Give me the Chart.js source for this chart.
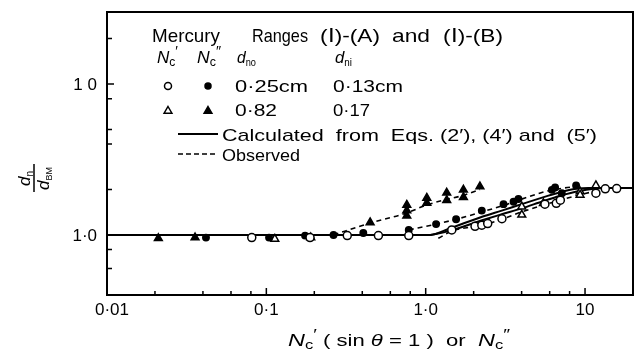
<!DOCTYPE html>
<html><head><meta charset="utf-8">
<script src="https://cdn.jsdelivr.net/npm/chart.js@4"></script>
<style>html,body{margin:0;padding:0;background:#fff}#wrap{width:642px;height:356px}</style>
</head><body><div id="wrap"><canvas id="c" width="642" height="356"></canvas></div>
<script>
// ---- tick data ----
const xMajorTicks = [0.01, 0.1, 1, 10];
const xTickLabels = ['0·01', '0·1', '1·0', '10'];
const xMinorTicks = [0.02,0.04,0.06,0.08,0.2,0.4,0.6,0.8,2,4,6,8];
const yMajorTicks = [1, 10];
const yTickLabels = ['1·0', '1 0'];
const yMinorTicks = [0.6,0.8,2,4,5,8,20];

// ---- observed points ----
const openCircX = [0.081, 0.188, 0.322, 0.505, 0.783, 1.458, 2.04, 2.25, 2.45, 3.01, 5.6, 6.6, 7.0, 11.7, 13.4, 15.8];
const openCircY = [0.96, 0.96, 0.99, 0.99, 0.99, 1.08, 1.14, 1.16, 1.19, 1.28, 1.6, 1.62, 1.7, 1.89, 2.02, 2.03];
const filledCircX = [0.0418, 0.104, 0.175, 0.264, 0.406, 0.783, 1.162, 1.552, 2.25, 3.08, 3.56, 3.82, 6.19, 6.49, 7.15, 8.79];
const filledCircY = [0.96, 0.96, 0.99, 1.0, 1.03, 1.08, 1.18, 1.27, 1.45, 1.6, 1.66, 1.73, 1.99, 2.06, 1.89, 2.13];
const openTriX = [0.113, 0.19, 4.01, 4.01, 5.48, 9.31, 9.31, 11.7];
const openTriY = [0.94, 0.96, 1.54, 1.36, 1.62, 1.94, 1.84, 2.13];
const filledTriX = [0.021, 0.0357, 0.448, 0.761, 0.761, 0.761, 1.016, 1.016, 1.355, 1.355, 1.725, 1.725, 2.19];
const filledTriY = [0.95, 0.96, 1.21, 1.58, 1.45, 1.34, 1.76, 1.63, 1.9, 1.7, 1.99, 1.78, 2.09];

// ---- calculated (solid) curves ----
const calcUpperX = [0.01, 1.07, 1.4, 2.26, 3.0, 4.0, 5.5, 7.0, 8.8, 10.5, 20];
const calcUpperY = [1, 1, 1.1, 1.32, 1.45, 1.6, 1.78, 1.92, 2.02, 2.05, 2.05];
const calcLowerX = [1.07, 1.4, 2.26, 3.0, 4.0, 5.5, 7.0, 9.0, 11.7, 14];
const calcLowerY = [1, 1.06, 1.25, 1.37, 1.5, 1.68, 1.82, 1.95, 2.03, 2.05];

// ---- observed (dashed) curves ----
const obsTriX = [0.264, 0.448, 0.761, 1.016, 1.355, 1.725, 2.19];
const obsTriY = [1.0, 1.2, 1.4, 1.58, 1.72, 1.83, 2.0];
const obsFCX = [0.783, 1.162, 1.552, 2.25, 3.08, 3.82, 6.0, 8.8];
const obsFCY = [1.08, 1.18, 1.27, 1.42, 1.57, 1.7, 1.97, 2.1];
const obsOCX = [1.2, 1.458, 2.04, 2.45, 3.01, 4.0, 5.75, 7.0, 9.3, 11.7, 13.4];
const obsOCY = [0.95, 1.06, 1.14, 1.19, 1.27, 1.42, 1.6, 1.7, 1.85, 1.95, 2.02];

const zip = (xs, ys) => xs.map((x, i) => ({x, y: ys[i]}));
const FONT = '"Liberation Sans", Arial, sans-serif';

function lineDs(xs, ys, dashed) {
  return {data: zip(xs, ys), showLine: true, pointRadius: 0, borderColor: '#000',
    borderWidth: dashed ? 1.6 : 2, borderDash: dashed ? [5, 4] : [], cubicInterpolationMode: 'monotone',
    order: 2, fill: false};
}
function ptDs(xs, ys, style, filled, r) {
  return {data: zip(xs, ys), showLine: false, pointStyle: style, pointRadius: r, pointHoverRadius: r,
    backgroundColor: filled ? '#000' : '#fff', borderColor: '#000', borderWidth: 1.5, order: 1};
}

function richWidth(ctx, parts) {
  let w = 0;
  for (const p of parts) { ctx.font = (p.italic ? 'italic ' : '') + p.size + 'px ' + FONT; w += ctx.measureText(p.t).width; }
  return w;
}
function drawRich(ctx, parts, x, y, width) {
  const w = richWidth(ctx, parts);
  const s = width ? width / w : 1;
  ctx.save(); ctx.translate(x, y); ctx.scale(s, 1);
  let cx = 0;
  for (const p of parts) {
    ctx.font = (p.italic ? 'italic ' : '') + p.size + 'px ' + FONT;
    ctx.fillText(p.t, cx, p.dy || 0);
    cx += ctx.measureText(p.t).width;
  }
  ctx.restore();
}
function T(t, size, italic, dy) { return {t, size, italic, dy}; }
function Nc(prime, size) { return [T('N', size, true), T('c', Math.round(size*0.72), false, 3), T(prime, Math.round(size*0.8), false, -7)]; }

function drawMarker(ctx, style, filled, x, y, r) {
  ctx.save(); ctx.lineWidth = 1.5; ctx.strokeStyle = '#000'; ctx.fillStyle = filled ? '#000' : '#fff';
  ctx.beginPath();
  if (style === 'circle') ctx.arc(x, y, r, 0, Math.PI*2);
  else { ctx.moveTo(x, y - r); ctx.lineTo(x + r*0.866, y + r*0.5); ctx.lineTo(x - r*0.866, y + r*0.5); ctx.closePath(); }
  ctx.fill(); ctx.stroke(); ctx.restore();
}

const decor = {
  id: 'decor',
  afterDraw(chart) {
    const ctx = chart.ctx, xs = chart.scales.x, ys = chart.scales.y, a = chart.chartArea;
    ctx.save();
    ctx.strokeStyle = '#000'; ctx.fillStyle = '#000';
    ctx.lineWidth = 2;
    ctx.strokeRect(a.left, a.top, a.right - a.left, a.bottom - a.top);
    ctx.lineWidth = 1.5;
    ctx.beginPath();
    for (const v of xMinorTicks) { const p = xs.getPixelForValue(v); ctx.moveTo(p, a.bottom); ctx.lineTo(p, a.bottom - 4); }
    for (const v of xMajorTicks) { const p = xs.getPixelForValue(v); ctx.moveTo(p, a.bottom); ctx.lineTo(p, a.bottom - 7); }
    for (const v of yMinorTicks) { const p = ys.getPixelForValue(v); ctx.moveTo(a.left, p); ctx.lineTo(a.left + 5, p); }
    for (const v of yMajorTicks) { const p = ys.getPixelForValue(v); ctx.moveTo(a.left, p); ctx.lineTo(a.left + 7, p); }
    ctx.stroke();

    ctx.font = '17px ' + FONT; ctx.textAlign = 'center'; ctx.textBaseline = 'alphabetic';
    xMajorTicks.forEach((v, i) => { ctx.fillText(xTickLabels[i], xs.getPixelForValue(v) + (i === 0 ? 5 : 0), 315); });
    ctx.textAlign = 'right';
    yMajorTicks.forEach((v, i) => { ctx.fillText(yTickLabels[i], 97, ys.getPixelForValue(v) + 6); });
    ctx.textAlign = 'left';

    drawRich(ctx, [...Nc('′', 17), T(' ( sin ', 16), T('θ', 16, true), T(' = 1 )  or  ', 16), ...Nc('″', 17)], 288, 346, 222);

    ctx.save(); ctx.translate(34, 178); ctx.rotate(-Math.PI/2);
    ctx.lineWidth = 1.5; ctx.beginPath(); ctx.moveTo(-14, 0); ctx.lineTo(14, 0); ctx.stroke();
    drawRich(ctx, [T('d', 17, true), T('n', 10, false, 3)], -8, -4);
    drawRich(ctx, [T('d', 17, true), T('BM', 9, false, 3)], -12, 15);
    ctx.restore();

    drawRich(ctx, [T('Mercury', 19)], 152, 42, 68);
    drawRich(ctx, [T('Ranges', 19)], 252, 42, 56);
    drawRich(ctx, [T('(Ⅰ)-(A)', 19)], 320, 42, 60);
    drawRich(ctx, [T('and', 19)], 392, 42, 38);
    drawRich(ctx, [T('(Ⅰ)-(B)', 19)], 443, 42, 60);
    drawRich(ctx, Nc('′', 17), 157, 63, 21);
    drawRich(ctx, Nc('″', 17), 197, 63, 24);
    drawRich(ctx, [T('d', 17, true), T('no', 10, false, 3)], 237, 63, 19);
    drawRich(ctx, [T('d', 17, true), T('ni', 10, false, 3)], 335, 63, 17);
    drawMarker(ctx, 'circle', false, 168, 86, 3.5);
    drawMarker(ctx, 'circle', true, 208, 86, 3);
    drawRich(ctx, [T('0·25cm', 17)], 235, 92, 73);
    drawRich(ctx, [T('0·13cm', 17)], 333, 92, 70);
    drawMarker(ctx, 'triangle', false, 168, 111, 4.5);
    drawMarker(ctx, 'triangle', true, 208, 111, 4.5);
    drawRich(ctx, [T('0·82', 17)], 235, 116, 42);
    drawRich(ctx, [T('0·17', 17)], 333, 116, 37);
    ctx.lineWidth = 2; ctx.setLineDash([]);
    ctx.beginPath(); ctx.moveTo(178, 134); ctx.lineTo(218, 134); ctx.stroke();
    drawRich(ctx, [T('Calculated  from  Eqs. (2′), (4′) and  (5′)', 17)], 222, 141, 375);
    ctx.lineWidth = 1.6; ctx.setLineDash([5, 3]);
    ctx.beginPath(); ctx.moveTo(178, 154); ctx.lineTo(218, 154); ctx.stroke();
    ctx.setLineDash([]);
    drawRich(ctx, [T('Observed', 17)], 222, 161, 78);
    ctx.restore();
  }
};

new Chart(document.getElementById('c'), {
  type: 'scatter',
  data: {datasets: [
    lineDs(calcUpperX, calcUpperY, false),
    lineDs(calcLowerX, calcLowerY, false),
    lineDs(obsTriX, obsTriY, true),
    lineDs(obsFCX, obsFCY, true),
    lineDs(obsOCX, obsOCY, true),
    ptDs(openCircX, openCircY, 'circle', false, 4),
    ptDs(filledCircX, filledCircY, 'circle', true, 3.2),
    ptDs(openTriX, openTriY, 'triangle', false, 4.5),
    ptDs(filledTriX, filledTriY, 'triangle', true, 4.5)
  ]},
  options: {
    responsive: false, animation: false, devicePixelRatio: 1,
    layout: {padding: {left: 107, right: 9, top: 12, bottom: 61}},
    scales: {
      x: {type: 'logarithmic', min: 0.01, max: 20, display: false},
      y: {type: 'logarithmic', min: 0.4, max: 30, display: false}
    },
    plugins: {legend: {display: false}, tooltip: {enabled: false}}
  },
  plugins: [decor]
});
</script></body></html>
